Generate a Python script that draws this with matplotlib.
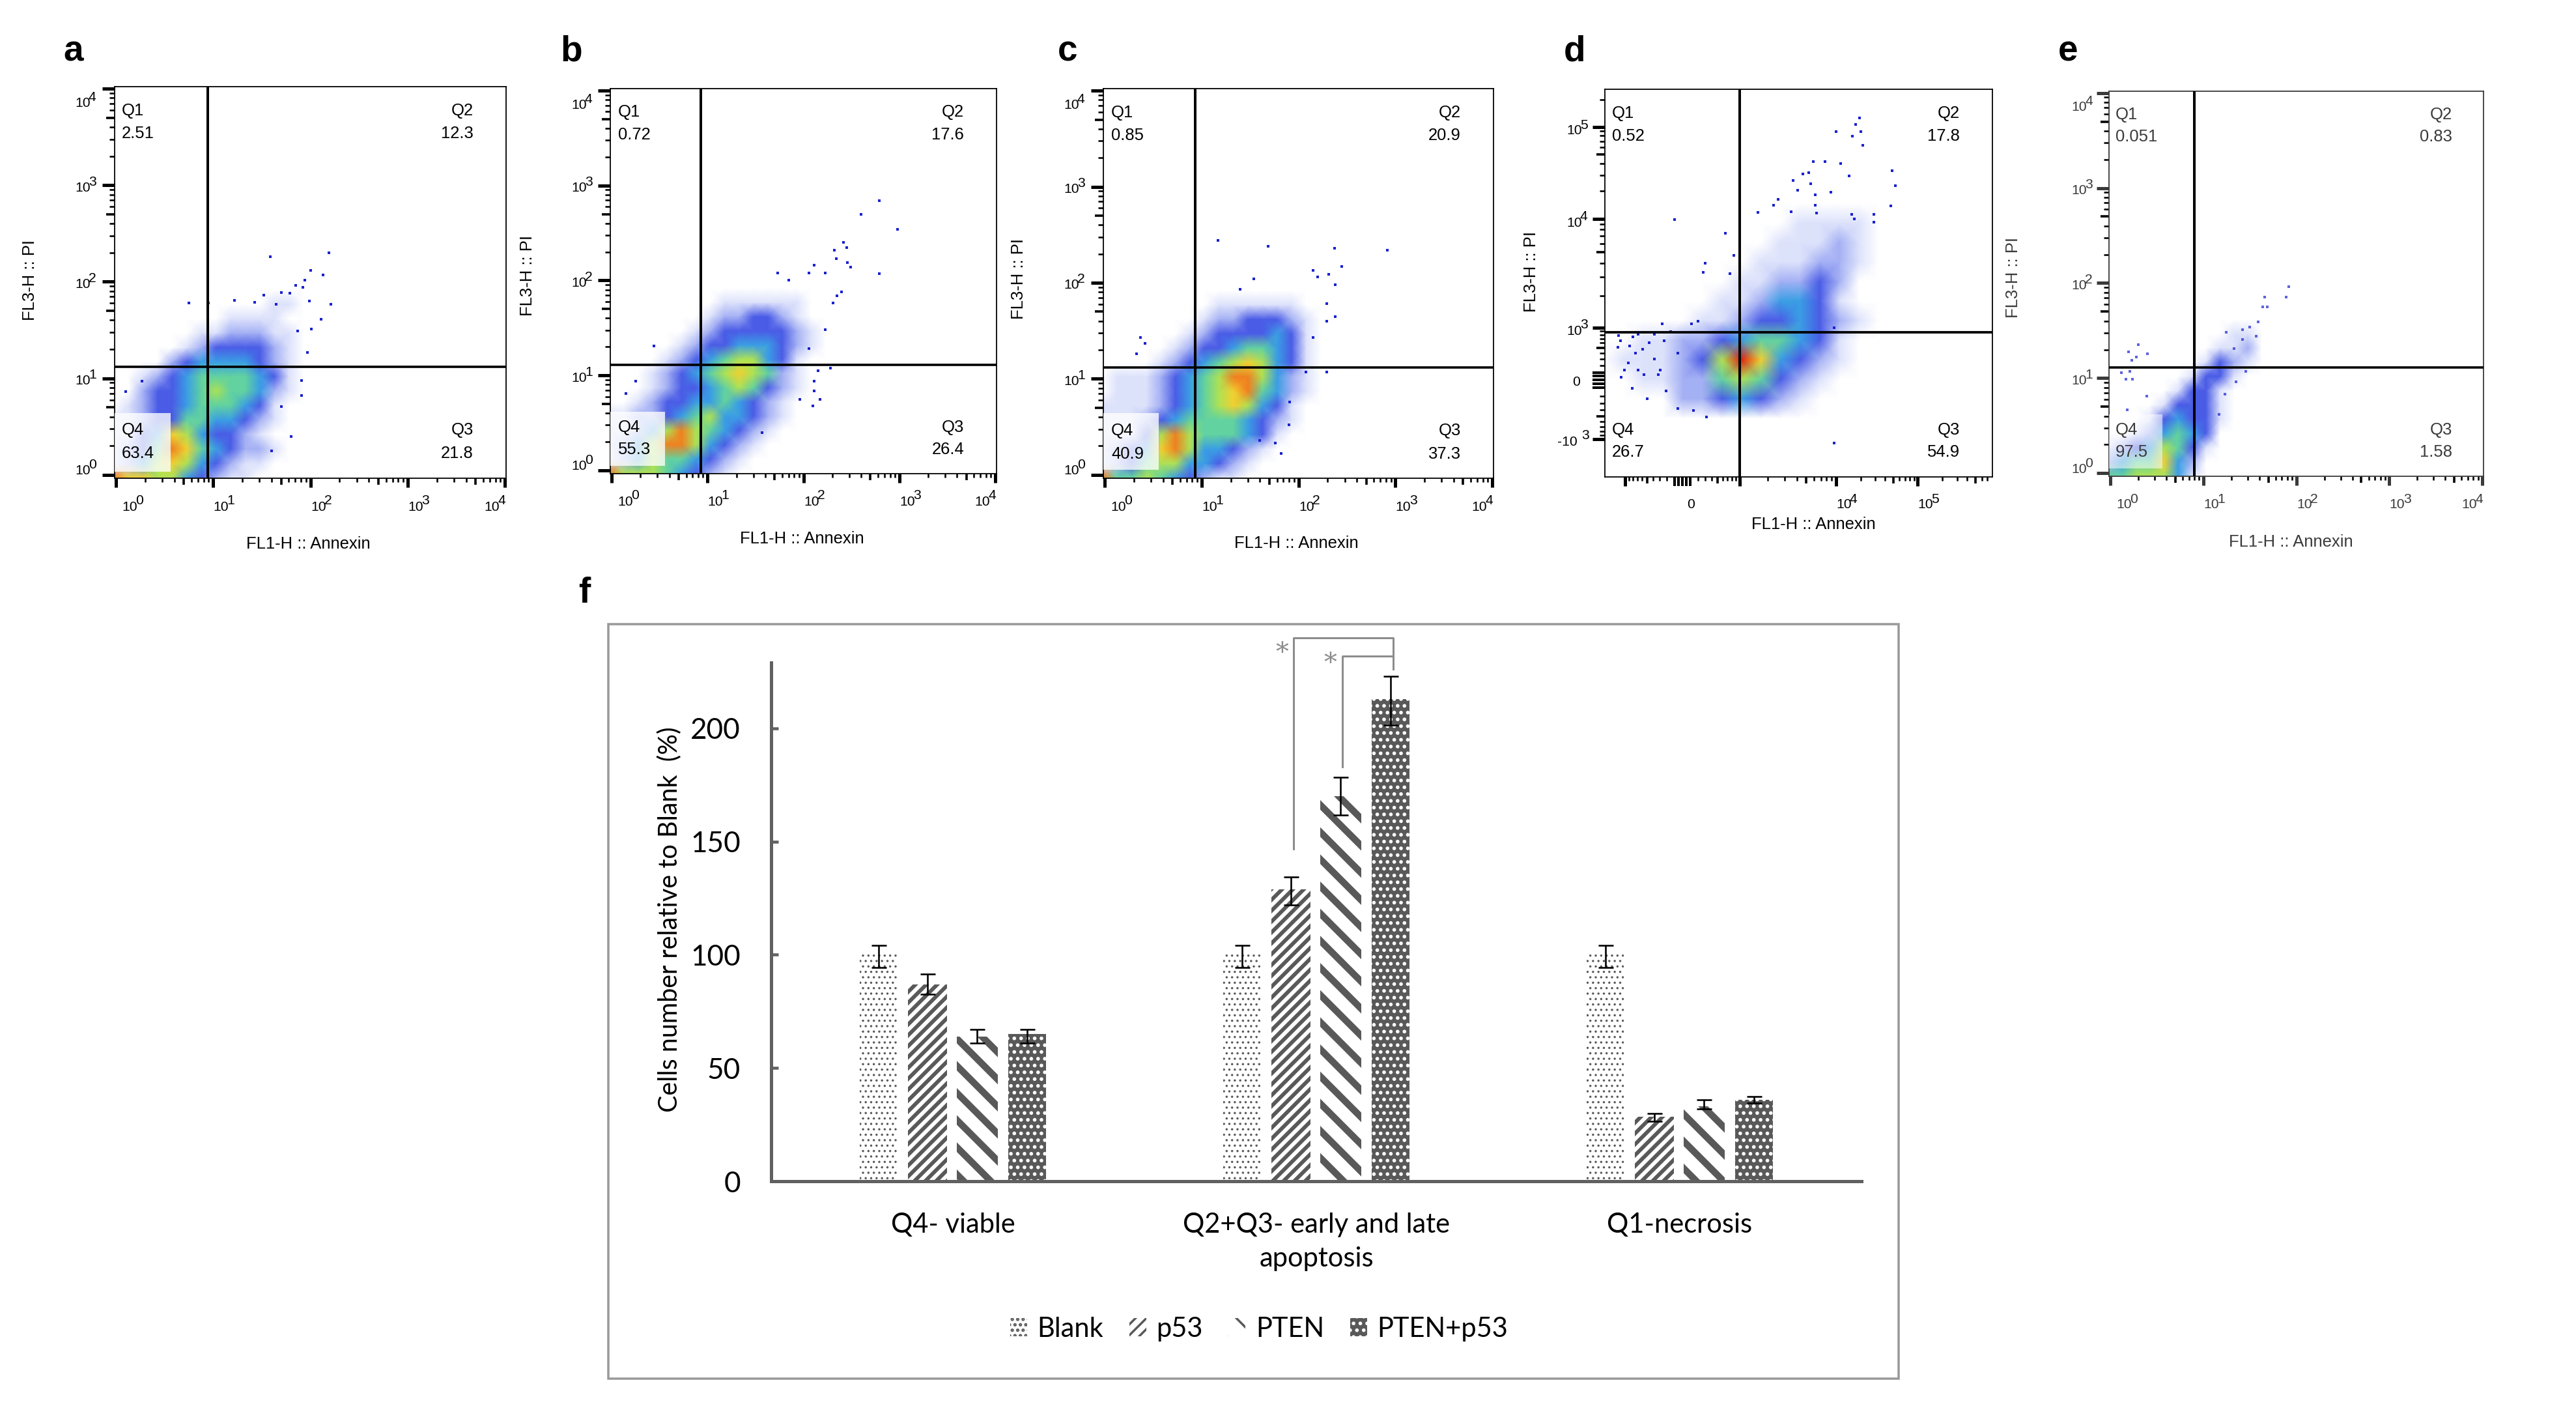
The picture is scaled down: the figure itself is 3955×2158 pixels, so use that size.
import numpy as np
import matplotlib
matplotlib.use("Agg")
import matplotlib.pyplot as plt
from matplotlib.colors import ListedColormap
from matplotlib.patches import Rectangle
from matplotlib.ticker import FixedLocator, LogLocator, NullFormatter

W, H, DPI = 3955, 2158, 250
plt.rcParams['font.family'] = ['Liberation Sans', 'DejaVu Sans']

# ---- flow cytometry panels: density levels read by eye, 0 = empty, 9 = hottest
# rows run top to bottom, columns left to right, one cell = 0.15 decade
DENS_A = ["00000000000000000", "00000000000000000", "00000000000000000", "00000000000000000",
          "00000000000110000", "00000000111100000", "00000011222110000", "00000123333210000",
          "00002344443210000", "00123455554310000", "00233456554210000", "01233455543100000",
          "11233554432100000", "11347643321000000", "12358754322100000", "12467643211000000",
          "87766432110000000"]
DENS_B = ["00000000000000000", "00000000000000000", "00000000000000000", "00000000000000000",
          "00000000111111000", "00000001223321000", "00000012333332100", "00000123344432100",
          "00001234566431000", "00012345676521000", "00012334565321000", "00123344543210000",
          "11223456443210000", "11246865432100000", "12468864321000000", "12465543210000000",
          "86665432100000000"]
DENS_C = ["00000000000000000", "00000000000000000", "00000000000000000", "00000000000000000",
          "00000000111111000", "00000001223332100", "00000012333343100", "00000123345543100",
          "00001234567643100", "01112345688642100", "01112345678542100", "11112345676431000",
          "11123455554321000", "11136865554310000", "12347864432100000", "12356644321000000",
          "85565432110000000"]
DENS_E = ["00000000000000000", "00000000000000000", "00000000000000000", "00000000000000000",
          "00000000000000000", "00000000000000000", "00000000011000000", "00000000112000000",
          "00000001321000000", "00000013310000000", "00000133100000000", "00001333100000000",
          "00013433100000000", "00124543000000000", "12346531000000000", "24557420000000000",
          "55666410000000000"]
# panel d is biexponential, 15 columns by 19 rows, cells of equal size on screen
DENS_D = ["000000000000000", "000000000000000", "000000000000000", "000000000000000",
          "000000000000000", "000000000011110", "000000000111210", "000000001112210",
          "000000011223200", "000000112443100", "000001123343210", "001122345543100",
          "011123697432100", "001122565321000", "000022343210000", "000000000000000",
          "000000000000000", "000000000000000", "000000000000000"]

# single events outside the clouds, as log10 of the value
DOTS_A_X = [2.19, 1.59, 2.0, 2.13, 2.21, 1.94, 1.92, 1.85, 1.79, 1.7, 1.52, 1.22, .75, .95, 1.99, 2.11,
            2.01, 1.87, 1.97, 1.91, 1.91, 1.8, 1.6, .1, .27, 1.7, 1.65, 1.43]
DOTS_A_Y = [2.30, 2.26, 2.12, 2.07, 1.77, 2.02, 1.94, 1.96, 1.88, 1.89, 1.86, 1.81, 1.78, 1.78, 1.80, 1.61,
            1.51, 1.49, 1.27, .98, .82, .40, .25, .86, .97, .71, 1.77, 1.79]
DOTS_B_X = [2.79, 2.6, 2.98, 2.42, 2.45, 2.32, 2.34, 2.46, 2.49, 2.79, 2.11, 2.06, 2.23, 1.73, 1.85, 2.4,
            2.35, 2.31, 2.23, 2.06, 2.28, 2.15, 2.11, 2.11, 2.17, 2.1, 1.96, .44, .25, .15, 1.57]
DOTS_B_Y = [2.84, 2.70, 2.54, 2.40, 2.35, 2.32, 2.23, 2.19, 2.14, 2.07, 2.16, 2.08, 2.08, 2.08, 2.0, 1.88,
            1.84, 1.76, 1.48, 1.28, 1.08, 1.05, .94, .84, .75, .68, .75, 1.31, .94, .81, .40]
DOTS_C_X = [1.17, 1.69, 2.37, 2.92, 2.45, 2.15, 2.2, 2.31, 2.38, 1.54, 1.4, 2.29, 2.38, 2.29, 2.15, 2.08,
            2.29, .37, .42, .33, 1.91, 1.82, 1.76, 1.9, 1.6]
DOTS_C_Y = [2.44, 2.38, 2.36, 2.34, 2.17, 2.13, 2.06, 2.09, 1.98, 2.04, 1.93, 1.6, 1.65, 1.78, 1.43, 1.07,
            1.07, 1.43, 1.37, 1.26, .76, .22, .33, .52, .36]
DOTS_E_X = [1.92, 1.89, 1.66, 1.64, 1.69, 1.59, 1.5, 1.25, 1.42, 1.57, .3, .2, .4, .28, .23, .21, .12, .17,
            .24, 1.46, 1.35, 1.23, 1.17, .39, .18, 1.33, 1.42]
DOTS_E_Y = [1.96, 1.85, 1.85, 1.75, 1.75, 1.59, 1.54, 1.48, 1.51, 1.44, 1.35, 1.28, 1.26, 1.22, 1.19, 1.07,
            1.06, .99, .99, 1.07, .96, .83, .62, .81, .67, 1.31, 1.41]
DOTS_D_X = [4.29, 4.24, 4.0, 4.2, 4.30, 4.33, 3.77, 3.89, 4.06, 4.69, 4.73, 3.66, 3.72, 4.16, 3.56, 3.74,
            3.61, 3.95, 3.79, 3.41, 3.36, 3.79, 4.67, 3.80, 3.20, 3.54, 4.19, 4.46, 4.22, 4.46, 3.98]
DOTS_D_Y = [5.10, 5.03, 4.95, 4.90, 4.95, 4.80, 4.62, 4.62, 4.60, 4.52, 4.36, 4.49, 4.50, 4.47, 4.42, 4.38,
            4.31, 4.29, 4.26, 4.21, 4.15, 4.15, 4.14, 4.06, 4.07, 4.08, 4.05, 4.05, 4.0, 3.97, 3.0]
# these ones sit in the linear part of panel d, plain values
DOTS_D_LOW_X = [-100, 650, 1000, 850, 300, 280, 750, -1210, -1150, -1239, -1121, -1032, -885, -826, -737, -678, -590,
                -501, -383, -383, -295, -236, -147, -59, -914, -796, -472, -265, 206, 118, -678, -560, -206, -59,
                147, 324, -324]
DOTS_D_LOW_Y = [9800, 7400, 5900, 4700, 4000, 3300, 3200, 782, 646, 510, 34, 136, 544, -102, 408, 816, 476,
                -238, 816, 306, 136, 646, 884, 408, 238, 748, 612, 1088, 1156, 1088, 136, 68, -136, -374,
                -408, -510, 68]

Q_A = ["2.51", "12.3", "21.8", "63.4"]
Q_B = ["0.72", "17.6", "26.4", "55.3"]
Q_C = ["0.85", "20.9", "37.3", "40.9"]
Q_D = ["0.52", "17.8", "54.9", "26.7"]
Q_E = ["0.051", "0.83", "1.58", "97.5"]

# ---- bar panel
categories = ["Q4- viable", "Q2+Q3- early and late\napoptosis", "Q1-necrosis"]
blank = [100, 100, 100]
p53 = [87, 129, 28.5]
pten = [64, 170, 33]
both = [65, 213, 36]
blank_lo, blank_hi = [94.5, 94.5, 94.5], [104, 104, 104]
p53_lo, p53_hi = [82.6, 122, 26.5], [91.5, 134.4, 30]
pten_lo, pten_hi = [61, 161.7, 32], [67, 178.4, 36]
both_lo, both_hi = [61, 201.4, 34.5], [67, 223, 37.5]
bracket_outer_x, bracket_outer_y = [.937, .937, 1.211, 1.211], [146.8, 240, 240, 226]
bracket_inner_x, bracket_inner_y = [1.071, 1.071, 1.211, 1.211], [183, 232, 232, 226]


def pt(pixels):
    return pixels * 72 / DPI


def add_ax(left, top, right, bottom):
    return fig.add_axes([left / W, 1 - bottom / H, (right - left) / W, (bottom - top) / H])


def ftext(x, y, s, **kw):
    kw.setdefault('ha', 'center')
    kw.setdefault('va', 'center')
    return fig.text(x / W, 1 - y / H, s, **kw)


def style_ticks(axis, major_len, color):
    for tick, loc in zip(axis.get_minor_ticks(), axis.get_minorticklocs()):
        long_tick = abs(np.log10(abs(loc) + 1e-9) % 1 - np.log10(5)) < .01
        line = tick.tick1line
        line.set_markersize(pt(major_len * (.7 if long_tick else .42)))
        line.set_markeredgewidth(pt(3.6 if long_tick else 2.6))
        line.set_color(color)


def power_label(px, py, exp, color, size=6.1):
    ftext(px, py, "10", ha='left', fontsize=size, color=color)
    ftext(px + 21, py - 9, str(exp), ha='left', fontsize=size, color=color)


def quadrant_text(q_vals, q_pos, ink):
    left, right, (y1, y2, y3, y4) = q_pos[0], q_pos[1], q_pos[2]
    ftext(left, y1, "Q1", ha='left', fontsize=7.4, color=ink)
    ftext(left, y2, q_vals[0], ha='left', fontsize=7.4, color=ink)
    ftext(right, y1, "Q2", ha='right', fontsize=7.4, color=ink)
    ftext(right, y2, q_vals[1], ha='right', fontsize=7.4, color=ink)
    ftext(right, y3, "Q3", ha='right', fontsize=7.4, color=ink)
    ftext(right, y4, q_vals[2], ha='right', fontsize=7.4, color=ink)
    ftext(left, y3, "Q4", ha='left', fontsize=7.4, color=ink)
    ftext(left, y4, q_vals[3], ha='left', fontsize=7.4, color=ink)


def flow_panel(rect, gate, dens, dots, box, q_vals, q_pos, xlabel, ylabel, ink, dot_alpha=1.0):
    ax = add_ax(*rect)
    ax.set_xscale('log')
    ax.set_yscale('log')
    ax.set_xlim(.97, 10300)
    ax.set_ylim(.93, 10500)
    levels = np.flipud(np.array([[int(c) for c in row] for row in dens]))
    xs = 10 ** (np.arange(levels.shape[1]) * .15 - .02)
    ys = 10 ** (np.arange(levels.shape[0]) * .15 - .03)
    ax.pcolormesh(xs, ys, levels, shading='gouraud', cmap=density_cmap, vmin=-.5, vmax=9.5, zorder=1)
    ax.scatter(10 ** np.array(dots[0]), 10 ** np.array(dots[1]), s=pt(3.4) ** 2, marker='s',
               color='#1a22d0', linewidths=0, alpha=dot_alpha, zorder=2)
    ax.add_patch(Rectangle((.97, 10 ** box[0]), 10 ** .56 - .97, 10 ** box[1] - 10 ** box[0], facecolor='white',
                           edgecolor='none', alpha=box[2], zorder=3))
    ax.axvline(gate[0], color='black', lw=pt(4), zorder=4)
    ax.axhline(gate[1], color='black', lw=pt(3.6), zorder=4)
    for spine in ax.spines.values():
        spine.set_linewidth(pt(1.8))
        spine.set_color(ink)
    for axis, side in ((ax.xaxis, 'x'), (ax.yaxis, 'y')):
        axis.set_major_locator(FixedLocator([1, 10, 100, 1000, 10000]))
        axis.set_minor_locator(LogLocator(base=10, subs=range(2, 10), numticks=12))
        axis.set_major_formatter(NullFormatter())
        axis.set_minor_formatter(NullFormatter())
        length = 14 if side == 'x' else 19
        ax.tick_params(axis=side, which='major', length=pt(length), width=pt(5), color=ink)
        style_ticks(axis, length, ink)
    # tick labels sit off their ticks in the original, so they are placed by hand
    tick_row, label_col = q_pos[3], q_pos[4]
    for val, dx in zip([1, 10, 100, 1000, 10000], [9.5, 0.5, 0.5, 0.5, -32]):
        px = ax.transData.transform((val, 1))[0]
        power_label(px + dx, tick_row, int(np.log10(val)), ink)
    for val, dy in zip([10000, 1000, 100, 10, 1], [22, 4, 4, 4, -6]):
        py = H - ax.transData.transform((1, val))[1]
        power_label(label_col, py + dy, int(np.log10(val)), ink)
    quadrant_text(q_vals, q_pos, ink)
    ftext(xlabel[0], xlabel[1], "FL1-H :: Annexin", fontsize=7.4, color=ink)
    ftext(ylabel[0], ylabel[1], "FL3-H :: PI", fontsize=7.4, rotation=90, color=ink)
    return ax


density_cmap = ListedColormap(['#ffffff', '#dde2fb', '#a4b0f4', '#4a5ce6', '#3a9ee4',
                               '#62d2a0', '#aee254', '#f2d030', '#f08020', '#e02010'])

fig = plt.figure(figsize=(W / DPI, H / DPI), dpi=DPI, facecolor='white')

flow_panel((176, 133, 777, 733.5), (8.8, 13.1), DENS_A, (DOTS_A_X, DOTS_A_Y), (.03, .64, .78), Q_A,
           (186.5, 727, (170, 205, 660, 696), 778, 115), (473, 835), (46, 430), 'black')
flow_panel((937, 136, 1530, 726.5), (8.5, 13.0), DENS_B, (DOTS_B_X, DOTS_B_Y), (.05, .62, .78), Q_B,
           (949, 1480, (172, 207, 656, 690), 770, 877), (1231, 827), (810, 423), 'black')
flow_panel((1694, 136, 2293, 733.5), (8.6, 13.2), DENS_C, (DOTS_C_X, DOTS_C_Y), (.05, .64, .78), Q_C,
           (1706, 2243, (173, 208, 661, 697), 778, 1633), (1990, 834), (1564, 428), 'black')
flow_panel((3238, 139.5, 3813, 731), (8.0, 13.0), DENS_E, (DOTS_E_X, DOTS_E_Y), (.05, .62, .55), Q_E,
           (3248, 3765, (176, 210, 660, 694), 775, 3180), (3517, 832), (3091, 426), '#3a3a3a', .7)

# panel d, biexponential axes built from the tick positions of the original
U = [-10.6, -1.44, 0, 1.44, 3.69, 5.99, 10.6]
POS_X = [1946, 2496, 2583, 2671, 2819, 2944, 3197]
POS_Y = [-1270, -674, -583, -503, -336, -195, 81]


def fwd_x(v):
    return np.interp(np.arcsinh(np.asarray(v) / 500), U, POS_X)


def inv_x(p):
    return np.sinh(np.interp(p, POS_X, U)) * 500


def fwd_y(v):
    return np.interp(np.arcsinh(np.asarray(v) / 500), U, POS_Y)


def inv_y(p):
    return np.sinh(np.interp(p, POS_Y, U)) * 500


ax_d = add_ax(2464, 137, 3059, 732)
ax_d.set_xscale('function', functions=(fwd_x, inv_x))
ax_d.set_yscale('function', functions=(fwd_y, inv_y))
ax_d.set_xlim(-1750, 8.07e5)
ax_d.set_ylim(-2550, 2.62e5)
levels_d = np.flipud(np.array([[int(c) for c in row] for row in DENS_D]))
xs_d = inv_x(2464 + np.arange(levels_d.shape[1]) * 30.0)
ys_d = inv_y(-732 + np.arange(levels_d.shape[0]) * 30.0)
ax_d.pcolormesh(xs_d, ys_d, levels_d, shading='gouraud', cmap=density_cmap, vmin=-.5, vmax=9.5, zorder=1)
ax_d.scatter(list(10 ** np.array(DOTS_D_X)) + DOTS_D_LOW_X, list(10 ** np.array(DOTS_D_Y)) + DOTS_D_LOW_Y,
             s=pt(3.4) ** 2, marker='s', color='#1a22d0', linewidths=0, zorder=2)
ax_d.axvline(1000, color='black', lw=pt(4), zorder=4)
ax_d.axhline(870, color='black', lw=pt(3.8), zorder=4)
ax_d.scatter([10 ** 3.98], [-1100], s=pt(3.4) ** 2, marker='s', color='#1a22d0', linewidths=0, zorder=2)
for spine in ax_d.spines.values():
    spine.set_linewidth(pt(1.8))
minor_low = [-900, -800, -700, -600, -500, -400, -300, -200, -100, -50, 50, 100, 200, 300, 400, 500, 600, 700, 800, 900]
minor_high = [2000, 3000, 4000, 5000, 6000, 7000, 8000, 9000, 20000, 30000, 40000, 50000, 60000, 70000, 80000, 90000,
              200000, 300000, 400000, 500000, 600000, 700000]
for axis, side, length in ((ax_d.xaxis, 'x', 14), (ax_d.yaxis, 'y', 19)):
    axis.set_major_locator(FixedLocator([-1000, 1000, 10000, 100000]))
    axis.set_minor_locator(FixedLocator(minor_low + [0] + minor_high))
    axis.set_major_formatter(NullFormatter())
    axis.set_minor_formatter(NullFormatter())
    ax_d.tick_params(axis=side, which='major', length=pt(length), width=pt(5))
    style_ticks(axis, length, 'black')
    # the ticks around zero merge into a nearly solid block
    for tick, loc in zip(axis.get_minor_ticks(), axis.get_minorticklocs()):
        if abs(loc) <= 100:
            tick.tick1line.set_markersize(pt(length))
            tick.tick1line.set_markeredgewidth(pt(4))
ftext(2596, 775, "0", fontsize=6.1)
power_label(2819, 775, 4, 'black')
power_label(2944, 775, 5, 'black')
power_label(2405, 201, 5, 'black')
power_label(2405, 342, 4, 'black')
power_label(2405, 508, 3, 'black')
ftext(2420, 587, "0", fontsize=6.1)
ftext(2391, 679, "-10", ha='left', fontsize=6.1)
ftext(2428, 669, "3", ha='left', fontsize=6.1)
quadrant_text(Q_D, (2475, 3009, (174, 209, 660, 694)), 'black')
ftext(2784, 805, "FL1-H :: Annexin", fontsize=7.4)
ftext(2351, 417, "FL3-H :: PI", fontsize=7.4, rotation=90)

for letter, x, y in (("a", 97, 94), ("b", 860, 94), ("c", 1624, 94), ("d", 2401, 94), ("e", 3160, 94), ("f", 888, 925)):
    ftext(x, y, letter, ha='left', va='baseline', fontsize=15.8, fontweight='bold')

# ---- panel f
fig.add_artist(Rectangle((934 / W, 1 - 2116 / H), (2915 - 934) / W, (2116 - 958) / H, transform=fig.transFigure,
                         fill=False, edgecolor='#999999', lw=pt(3.5)))
ax = add_ax(1184, 1017, 2858, 1813)
x = np.arange(len(categories))
GREY = '#595959'
series = [
    ("Blank", blank, blank_lo, blank_hi, -.205, .102, 'white', GREY, '.' * 5, .5),
    ("p53", p53, p53_lo, p53_hi, -.07, .106, 'white', GREY, '/' * 5, 1.7),
    ("PTEN", pten, pten_lo, pten_hi, .067, .113, 'white', GREY, '\\' * 2, 3.0),
    ("PTEN+p53", both, both_lo, both_hi, .204, .104, GREY, 'white', '.' * 4, 1.0),
]
for label, vals, lo, hi, off, width, face, edge, hatch, hatch_lw in series:
    plt.rcParams['hatch.linewidth'] = hatch_lw
    ax.bar(x + off, vals, width, color=face, edgecolor=edge, hatch=hatch, linewidth=0, label=label, zorder=2)
    ax.errorbar(x + off, vals, yerr=[np.array(vals) - np.array(lo), np.array(hi) - np.array(vals)], fmt='none',
                ecolor='black', elinewidth=pt(2.6), capsize=pt(11.5), capthick=pt(2.6), zorder=3)
ax.set_xlim(-.5, 2.5)
ax.set_ylim(0, 229)
ax.spines['top'].set_visible(False)
ax.spines['right'].set_visible(False)
for side in ('left', 'bottom'):
    ax.spines[side].set_color('#606060')
    ax.spines[side].set_linewidth(pt(5))
ax.set_yticks([0, 50, 100, 150, 200])
ax.tick_params(axis='y', direction='in', length=pt(11), width=pt(4.5), color='#606060', pad=pt(47),
               labelsize=12.7, labelfontfamily='Lato')
ax.set_xticks(x)
ax.set_xticklabels(categories, fontsize=12, family='Lato', linespacing=1.45)
ax.tick_params(axis='x', length=0, pad=pt(48))
ftext(1028, 1411, "Cells number relative to Blank  (%)", rotation=90, fontsize=11.4, family='Lato')
ax.plot(bracket_outer_x, bracket_outer_y, color='#8c8c8c', lw=pt(3), clip_on=False, zorder=4)
ax.plot(bracket_inner_x, bracket_inner_y, color='#8c8c8c', lw=pt(3), clip_on=False, zorder=4)
ftext(1968, 1002, "*", fontsize=11.5, color='#8c8c8c', family='DejaVu Serif')
ftext(2042, 1019, "*", fontsize=11.5, color='#8c8c8c', family='DejaVu Serif')
handles, labels = ax.get_legend_handles_labels()
fig.legend(handles, labels, loc='center', bbox_to_anchor=(1933 / W, 1 - 2040 / H), ncol=4, frameon=False,
           prop={'family': 'Lato', 'size': 12}, handlelength=.62, handleheight=.65, handletextpad=.38,
           columnspacing=.95)

fig.savefig("out.png", dpi=DPI, facecolor='white')
